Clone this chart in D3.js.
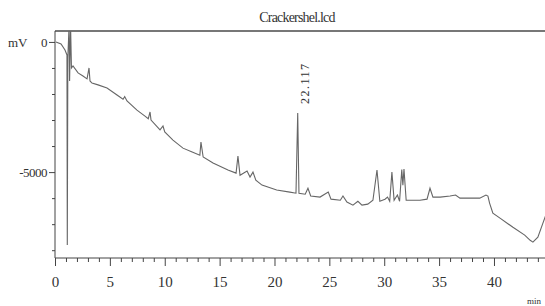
<!DOCTYPE html>
<html>
<head>
<meta charset="utf-8">
<script src="https://cdn.jsdelivr.net/npm/d3@7"></script>
<style>
  body { margin: 0; background: #fff; }
</style>
</head>
<body>
<script>
// retention time (min) and detector signal (mV)
var times = [0.09, 0.55, 0.91, 1.09, 1.12, 1.17, 1.28, 1.33, 1.42, 1.5, 1.64, 2.1, 2.55, 2.92, 3.1, 3.19,
  3.37, 3.92, 4.74, 5.65, 6.2, 6.35, 6.56, 7.47, 8.2, 8.5, 8.66, 8.75, 9.57, 9.84, 10.0, 10.75, 11.66,
  12.5, 13.2, 13.3, 13.5, 14.4, 15.76, 16.5, 16.67, 16.86, 17.5, 17.77, 18.04, 18.3, 18.86, 20.2, 21.4,
  21.96, 22.117, 22.23, 22.8, 23.05, 23.3, 24.15, 24.9, 25.15, 26.0, 26.24, 26.6, 27.15, 27.6, 27.97,
  28.5, 28.97, 29.34, 29.6, 30.07, 30.3, 30.5, 30.7, 30.9, 31.2, 31.4, 31.6, 31.7, 31.8, 32.0, 32.35,
  33.26, 33.9, 34.17, 34.44, 35.1, 36.0, 36.5, 36.9, 37.8, 38.7, 39.27, 39.45, 39.6, 39.9, 40.55, 41.73,
  42.8, 43.3, 43.55, 44.0, 44.46, 44.75];
var mv = [0, -77, -310, -500, -7800, -600, 600, -1500, 600, -1000, -920, -1190, -1310, -1420, -1000, -1500,
  -1580, -1650, -1770, -2040, -2200, -2100, -2270, -2620, -2850, -2950, -2690, -3000, -3380, -3230, -3460, -3770, -4080,
  -4230, -4350, -3850, -4420, -4650, -4920, -5040, -4380, -5120, -4960, -5190, -5000, -5310, -5500, -5690, -5770,
  -5810, -2730, -5810, -5850, -5620, -5920, -5960, -5770, -6040, -6080, -5920, -6150, -6270, -6120, -6270,
  -6230, -6080, -4920, -6120, -6040, -5960, -6120, -5000, -6080, -5880, -6120, -4900, -5500, -4880, -6080, -6080,
  -6080, -6040, -5620, -5960, -5960, -5920, -5880, -6000, -6000, -6000, -5880, -5920, -6190, -6580, -6770, -7120,
  -7420, -7620, -7690, -7500, -6960, -6620];
var peakLabels = [{t: 22.117, v: -2730, label: "22.117"}];
var xMajor = [0, 5, 10, 15, 20, 25, 30, 35, 40];
var yMajor = [0, -5000];
var yMinor = [-1000, -2000, -3000, -4000, -6000, -7000, -8000];

var serif = "'Liberation Serif', 'Times New Roman', Times, serif";

var width = 545,
	height = 306;

var svg = d3.select("body").append("svg")
	.attr("width", width)
	.attr("height", height);

var x = d3.scaleLinear().domain([0, 44.65]).range([55, 545]);
var y = d3.scaleLinear().domain([-8300, 420]).range([258, 31]);

svg.append("clipPath").attr("id", "plot")
	.append("rect").attr("x", 55).attr("y", 31).attr("width", 490).attr("height", 227);

// frame top line
svg.append("line")
	.attr("x1", 55).attr("x2", 545).attr("y1", 31).attr("y2", 31)
	.attr("stroke", "#777").attr("stroke-width", 2);

// x axis: major + minor ticks
var xMinorVals = d3.range(0, 45).filter(function(d){ return d % 5 != 0; });
svg.append("g").attr("transform", "translate(0,258)")
	.call(d3.axisBottom(x).tickValues(xMinorVals).tickSize(4).tickFormat(""))
	.call(function(g){ g.select(".domain").remove(); });
var xg = svg.append("g").attr("transform", "translate(0,258)")
	.call(d3.axisBottom(x).tickValues(xMajor).tickSize(8).tickPadding(10).tickFormat(function(d){ return d; }));
xg.select(".domain").attr("d", "M55,0H545");
xg.selectAll("text").style("font-size", "15px");

// y axis
svg.append("g").attr("transform", "translate(55,0)")
	.call(d3.axisLeft(y).tickValues(yMinor).tickSize(3).tickFormat(""))
	.call(function(g){ g.select(".domain").remove(); });
var yg = svg.append("g").attr("transform", "translate(55,0)")
	.call(d3.axisLeft(y).tickValues(yMajor).tickSize(6).tickPadding(2).tickFormat(function(d){ return d; }));
yg.select(".domain").attr("d", "M0,31V258");
yg.selectAll("text").style("font-size", "13px").attr("letter-spacing", "-0.5px");

svg.selectAll(".domain, .tick line").attr("stroke", "#444");

// the trace
var line = d3.line()
	.x(function(d, i){ return x(times[i]); })
	.y(function(d){ return y(d); });

svg.append("path")
	.datum(mv)
	.attr("clip-path", "url(#plot)")
	.attr("fill", "none")
	.attr("stroke", "#666")
	.attr("stroke-width", 1.1)
	.attr("d", line);

// peak label
svg.selectAll(".peak").data(peakLabels).enter().append("text")
	.attr("class", "peak")
	.attr("transform", function(d){ return "translate(" + (x(d.t) + 7) + "," + (y(d.v) - 9) + ") rotate(-90)"; })
	.attr("dy", "0.35em")
	.attr("letter-spacing", "1.5px")
	.style("font-size", "12px")
	.text(function(d){ return d.label; });

// title and unit labels
svg.append("text").attr("x", 297).attr("y", 22).attr("text-anchor", "middle")
	.style("font-size", "14px").attr("letter-spacing", "-0.8px").text("Crackershel.lcd");
svg.append("text").attr("x", 8).attr("y", 47).style("font-size", "13px").text("mV");
svg.append("text").attr("x", 527).attr("y", 304).style("font-size", "9px").text("min");

svg.selectAll("text").style("font-family", serif).attr("fill", "#333");
</script>
</body>
</html>
